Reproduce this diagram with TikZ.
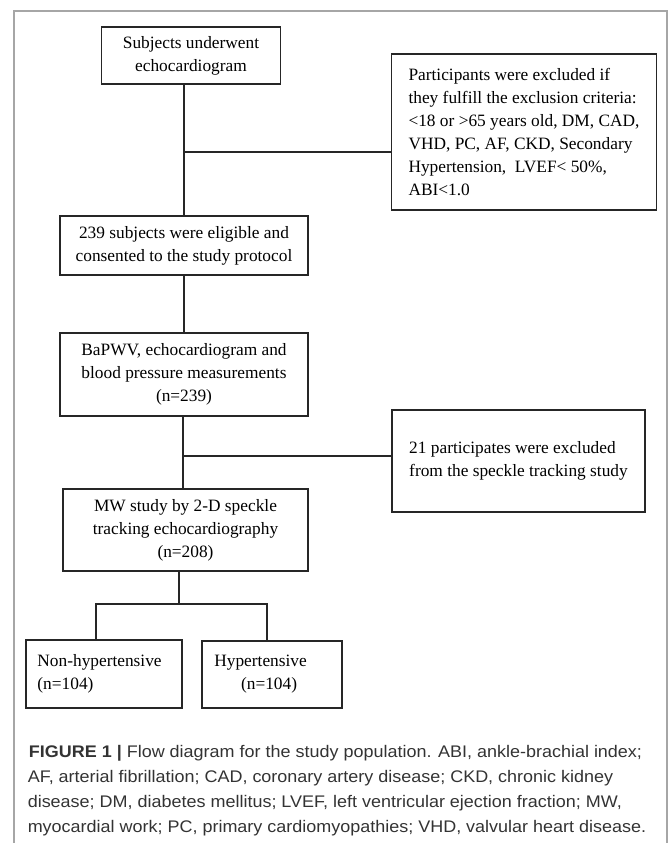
\documentclass[tikz,border=0pt]{standalone}
\usepackage{fontspec}
\setmainfont{Liberation Serif}
\newfontfamily\capfont[FakeStretch=1.07]{Liberation Sans}
\tikzset{
	flowbox/.style = {draw = black!85, line width = 0.9pt, inner sep = 0pt, font = \fontsize{13}{17.3}\selectfont},
	leftbox/.style = {flowbox, align = left},
	link/.style = {draw = black!85, line width = 0.9pt},
	captxt/.style = {anchor = base west, inner sep = 0pt, text = black!80, font = \capfont\fontsize{12.6}{18.5}\selectfont}
}
\begin{document}
\begin{tikzpicture}[x = 0.75pt,y = -0.75pt]
	\useasboundingbox (0,0) rectangle (669,843);
	\draw[gray!70, line width = 0.8pt] (14,843) -- (14,11) -- (667,11) -- (667,843);
	\node[flowbox, align = center, minimum width = 134.25pt, minimum height = 42.75pt] (subj) at (191,55.5) {Subjects underwent\\ echocardiogram};
	\node[leftbox, minimum width = 199.3pt, minimum height = 117pt] (excl) at (524,132) {Participants were excluded if\\ they fulfill the exclusion criteria:\\ <18 or >65 years old, DM, CAD,\\ VHD, PC, AF, CKD, Secondary\\ Hypertension,\ \ LVEF< 50\%,\\ ABI<1.0};
	\node[flowbox, align = center, minimum width = 186pt, minimum height = 44.25pt] (elig) at (184,245.5) {239 subjects were eligible and\\ consented to the study protocol};
	\node[flowbox, align = center, minimum width = 186pt, minimum height = 62.25pt] (meas) at (184,374.5) {BaPWV, echocardiogram and\\ blood pressure measurements\\ (n=239)};
	\node[leftbox, minimum width = 189.75pt, minimum height = 76.5pt] (drop) at (518.5,461) {21 participates were excluded\\ from the speckle tracking study};
	\node[flowbox, align = center, minimum width = 183.75pt, minimum height = 61.5pt] (mw) at (185.5,530) {MW study by 2-D speckle\\ tracking echocardiography\\ (n=208)};
	\node[leftbox, inner xsep = 8.6pt, text width = 99.8pt, minimum height = 51pt] (nonhyp) at (104,674) {Non-hypertensive\\ (n=104)};
	\node[leftbox, inner xsep = 9.3pt, text width = 86.4pt, minimum height = 50.25pt] (hyp) at (272,674.5) {Hypertensive\\ \hspace*{20pt}(n=104)};
	% branch points
	\coordinate (k1) at (184,152);
	\coordinate (k2) at (183,456);
	\coordinate (k3) at (179,604);
	\coordinate (l3) at (96,604);
	\coordinate (r3) at (267,604);
	\draw[link] (subj.south -| k1) -- (elig.north -| k1);
	\draw[link] (k1) -- (excl.west |- k1);
	\draw[link] (elig.south -| k1) -- (meas.north -| k1);
	\draw[link] (meas.south -| k2) -- (mw.north -| k2);
	\draw[link] (k2) -- (drop.west |- k2);
	\draw[link] (mw.south -| k3) -- (k3);
	\draw[link] (nonhyp.north -| l3) |- (r3) -- (hyp.north -| r3);
	% caption
	\node[captxt] (cap1) at (28.6,757.7) {\textbf{FIGURE 1 |} Flow diagram for the study population. ABI, ankle-brachial index;};
	\node[captxt] (cap2) at (27.5,782.7) {AF, arterial fibrillation; CAD, coronary artery disease; CKD, chronic kidney};
	\node[captxt] (cap3) at (27.5,807.5) {disease; DM, diabetes mellitus; LVEF, left ventricular ejection fraction; MW,};
	\node[captxt] (cap4) at (27.5,832) {myocardial work; PC, primary cardiomyopathies; VHD, valvular heart disease.};
\end{tikzpicture}
\end{document}
